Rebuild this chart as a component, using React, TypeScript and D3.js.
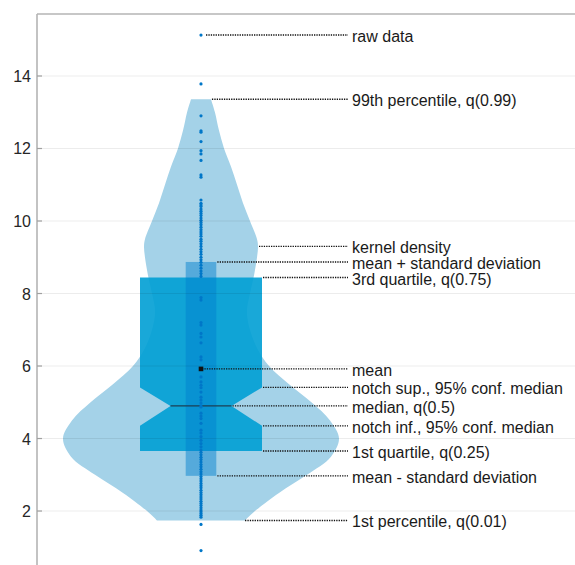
import React from "react";
import * as d3 from "d3";

// Raw observations (one sample)
const rawData: number[] = [
  15.13, 13.78, 12.9, 12.49, 12.45, 12.19, 11.94, 11.85, 11.67, 11.27, 11.21,
  10.58, 10.49, 10.44, 10.4, 10.33, 10.27, 10.21, 10.15, 10.08, 10.02, 9.96,
  9.9, 9.83, 9.76, 9.7, 9.64, 9.58, 9.5, 9.44, 9.37, 9.3, 9.22, 9.15, 9.08,
  9.0, 8.93, 8.86, 8.78, 8.7, 8.62, 8.55, 8.47, 7.89, 7.82, 7.2, 7.13, 6.9,
  6.8, 6.64, 6.25, 6.17, 5.7, 5.56, 5.47, 5.4, 5.28, 5.14, 5.06, 4.98, 4.9,
  4.87, 4.7, 4.62, 4.55, 4.42, 4.23, 4.15, 4.05, 3.95, 3.86, 3.77, 3.68, 3.62,
  3.55, 3.48, 3.42, 3.35, 3.28, 3.22, 3.15, 3.08, 3.02, 2.95, 2.89, 2.83,
  2.76, 2.7, 2.64, 2.57, 2.51, 2.45, 2.39, 2.33, 2.27, 2.21, 2.15, 2.09, 2.03,
  1.98, 1.93, 1.88, 1.83, 1.63, 0.91,
];

// Kernel density estimate: evaluation points and relative density
const densityAt: number[] = [
  1.74, 2.0, 2.5, 3.0, 3.5, 4.0, 4.5, 5.0, 5.5, 6.0, 6.5, 7.0, 7.5, 8.0, 8.5,
  9.0, 9.3, 9.5, 10.0, 10.5, 11.0, 11.5, 12.0, 12.5, 13.0, 13.36,
];
const densityValue: number[] = [
  0.319, 0.391, 0.565, 0.768, 0.942, 1.0, 0.935, 0.8, 0.638, 0.493, 0.406,
  0.355, 0.333, 0.355, 0.384, 0.406, 0.413, 0.406, 0.355, 0.304, 0.261,
  0.217, 0.167, 0.13, 0.101, 0.072,
];

// Summary statistics
const q01 = 1.74;
const q25 = 3.655;
const median = 4.9;
const q75 = 8.44;
const q99 = 13.36;
const notchInf = 4.35;
const notchSup = 5.41;
const mean = 5.92;
const stdDev = 2.95;

const yTicks: number[] = [2, 4, 6, 8, 10, 12, 14];

const W = 575;
const H = 565;
const axisX = 37;
const topY = 14;
const cx = 201;
const boxHalf = 61;
const sdHalf = 15.3;
const labelEnd = 348;
const labelX = 352;

const font = "'Liberation Sans', Arial, Helvetica, sans-serif";

export default function App() {
  const y = d3.scaleLinear().domain([0.5, 15.71]).range([565.4, topY]);
  const w = d3.scaleLinear().domain([0, 1]).range([0, 138]);

  const pts = densityAt.map((v, i) => ({ v, d: densityValue[i] }));
  const violinPath =
    d3
      .area<{ v: number; d: number }>()
      .y((p) => y(p.v))
      .x0((p) => cx - w(p.d))
      .x1((p) => cx + w(p.d))
      .curve(d3.curveCatmullRom.alpha(0.5))(pts) || "";

  const notchHalf = boxHalf / 2;
  const boxPath = [
    [cx - boxHalf, y(q75)],
    [cx + boxHalf, y(q75)],
    [cx + boxHalf, y(notchSup)],
    [cx + notchHalf, y(median)],
    [cx + boxHalf, y(notchInf)],
    [cx + boxHalf, y(q25)],
    [cx - boxHalf, y(q25)],
    [cx - boxHalf, y(notchInf)],
    [cx - notchHalf, y(median)],
    [cx - boxHalf, y(notchSup)],
  ];
  const boxD = (d3.line()(boxPath as [number, number][]) || "") + "Z";

  // density peak of the upper lobe, used for the kernel density callout
  const upper = pts.filter((p) => p.v > 8.5 && p.v < 10);
  const peak = upper.reduce((a, b) => (b.d > a.d ? b : a), upper[0]);

  const annotations = [
    { v: d3.max(rawData) as number, x0: cx + 4, text: "raw data" },
    { v: q99, x0: cx + w(densityValue[densityValue.length - 1]), text: "99th percentile, q(0.99)" },
    { v: peak.v, x0: cx + w(peak.d), text: "kernel density" },
    { v: mean + stdDev, x0: cx + sdHalf, text: "mean + standard deviation" },
    { v: q75, x0: cx + boxHalf, text: "3rd quartile, q(0.75)" },
    { v: mean, x0: cx, text: "mean" },
    { v: notchSup, x0: cx + boxHalf, text: "notch sup., 95% conf. median" },
    { v: median, x0: cx + notchHalf, text: "median, q(0.5)" },
    { v: notchInf, x0: cx + boxHalf, text: "notch inf., 95% conf. median" },
    { v: q25, x0: cx + boxHalf, text: "1st quartile, q(0.25)" },
    { v: mean - stdDev, x0: cx + sdHalf, text: "mean - standard deviation" },
    { v: q01, x0: cx + w(densityValue[0]) - 1, text: "1st percentile, q(0.01)" },
  ];

  return (
    <svg
      width={W}
      height={H}
      style={{ position: "absolute", left: 0, top: 0, background: "#fff" }}
      fontFamily={font}
    >
      {/* violin */}
      <path d={violinPath} fill="#a4d2e8" />
      {/* notched quartile box */}
      <path d={boxD} fill="#009fd4" fillOpacity={0.9} />
      {/* mean ± standard deviation */}
      <rect
        x={cx - sdHalf}
        y={y(mean + stdDev)}
        width={sdHalf * 2}
        height={y(mean - stdDev) - y(mean + stdDev)}
        fill="#0080cc"
        fillOpacity={0.48}
      />
      {/* median */}
      <line
        x1={cx - notchHalf}
        x2={cx + notchHalf}
        y1={y(median)}
        y2={y(median)}
        stroke="#1b3f55"
        strokeWidth={1.4}
      />
      {/* raw data */}
      {rawData.map((v, i) => (
        <circle key={i} cx={cx} cy={y(v)} r={1.6} fill="#0077c8" />
      ))}
      {/* mean marker */}
      <rect x={cx - 2.3} y={y(mean) - 2.3} width={4.6} height={4.6} fill="#111" />

      {/* grid */}
      {yTicks.map((t) => (
        <line
          key={"g" + t}
          x1={axisX}
          x2={W}
          y1={y(t)}
          y2={y(t)}
          stroke="#000"
          strokeOpacity={0.075}
          strokeWidth={1.2}
        />
      ))}

      {/* axes frame */}
      <line x1={axisX} x2={W} y1={topY} y2={topY} stroke="#b4b4b4" strokeWidth={1.6} />
      <line x1={axisX} x2={axisX} y1={topY} y2={H} stroke="#b4b4b4" strokeWidth={1.6} />
      {yTicks.map((t) => (
        <g key={"t" + t}>
          <line x1={axisX} x2={axisX + 5} y1={y(t)} y2={y(t)} stroke="#a0a0a0" strokeWidth={1.2} />
          <text
            x={31}
            y={y(t) + 6}
            textAnchor="end"
            fontSize={16}
            fill="#262626"
          >
            {t}
          </text>
        </g>
      ))}

      {/* callouts */}
      {annotations.map((a, i) => (
        <g key={"a" + i}>
          <line
            x1={a.x0 + 1}
            x2={labelEnd}
            y1={y(a.v)}
            y2={y(a.v)}
            stroke="#111"
            strokeWidth={1.4}
            strokeDasharray="1.3 1.1"
          />
          <text x={labelX} y={y(a.v) + 7} fontSize={16} fill="#1a1a1a">
            {a.text}
          </text>
        </g>
      ))}
    </svg>
  );
}
